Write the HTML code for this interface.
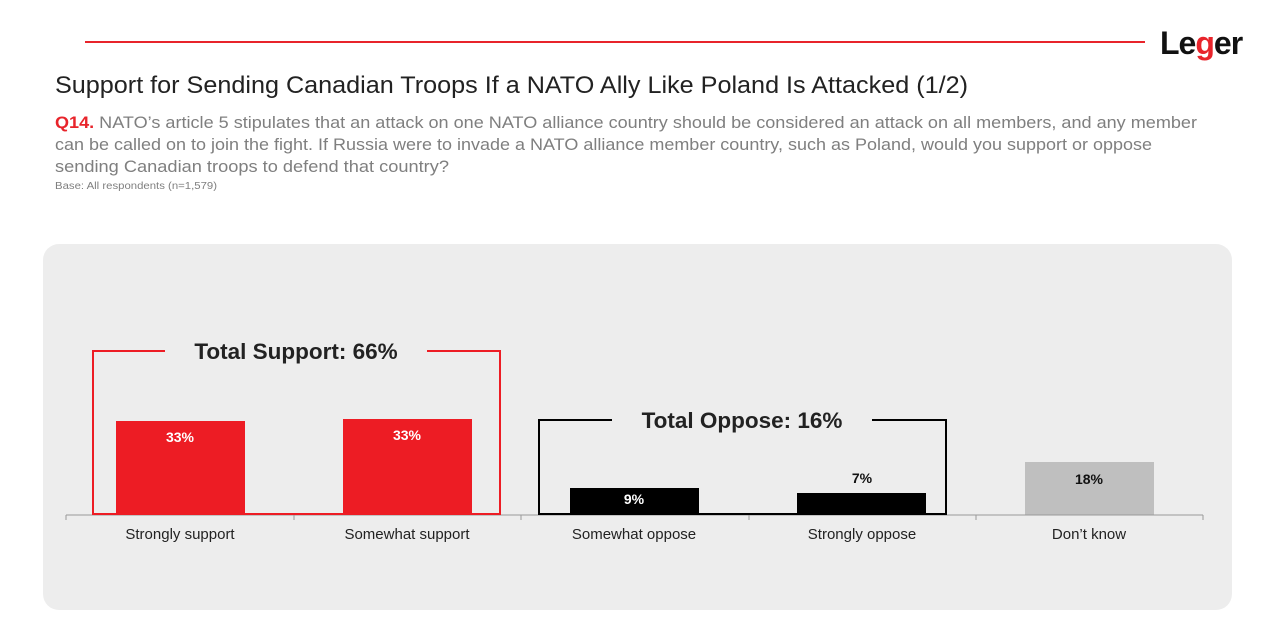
<!DOCTYPE html>
<html><head><meta charset="utf-8"><style>
body{margin:0;width:1263px;height:619px;background:#fff;font-family:"Liberation Sans",sans-serif;overflow:hidden}
</style></head><body>
<svg width="1263" height="619" xmlns="http://www.w3.org/2000/svg" font-family="Liberation Sans, sans-serif">
<line x1="85" y1="42" x2="1145" y2="42" stroke="#e8242b" stroke-width="2"/>
<text x="1160" y="54" font-size="32" font-weight="bold" fill="#111" letter-spacing="-1">Le<tspan fill="#e8242b">g</tspan>er</text>
<text x="55" y="93" font-size="24" fill="#222" textLength="913" lengthAdjust="spacingAndGlyphs">Support for Sending Canadian Troops If a NATO Ally Like Poland Is Attacked (1/2)</text>
<text x="55" y="128" font-size="17" fill="#7f7f7f" textLength="1142" lengthAdjust="spacingAndGlyphs"><tspan fill="#e8242b" font-weight="bold">Q14.</tspan> NATO’s article 5 stipulates that an attack on one NATO alliance country should be considered an attack on all members, and any member</text>
<text x="55" y="150" font-size="17" fill="#7f7f7f" textLength="1097" lengthAdjust="spacingAndGlyphs">can be called on to join the fight. If Russia were to invade a NATO alliance member country, such as Poland, would you support or oppose</text>
<text x="55" y="172" font-size="17" fill="#7f7f7f" textLength="394" lengthAdjust="spacingAndGlyphs">sending Canadian troops to defend that country?</text>
<text x="55" y="189" font-size="10" fill="#7f7f7f" textLength="162" lengthAdjust="spacingAndGlyphs">Base: All respondents (n=1,579)</text>
<rect x="43" y="244" width="1189" height="366" rx="16" fill="#ededed"/>
<rect x="116" y="421" width="129" height="94" fill="#ed1c24"/>
<rect x="343" y="419" width="129" height="96" fill="#ed1c24"/>
<rect x="570" y="488" width="129" height="27" fill="#000"/>
<rect x="797" y="493" width="129" height="22" fill="#000"/>
<rect x="1025" y="462" width="129" height="53" fill="#bfbfbf"/>
<g stroke="#999" stroke-width="1">
<line x1="66" y1="515" x2="1203" y2="515"/>
<line x1="66" y1="515" x2="66" y2="520"/><line x1="294" y1="515" x2="294" y2="520"/><line x1="521" y1="515" x2="521" y2="520"/><line x1="749" y1="515" x2="749" y2="520"/><line x1="976" y1="515" x2="976" y2="520"/><line x1="1203" y1="515" x2="1203" y2="520"/>
</g>
<path d="M165 351H93V514H500V351H427" fill="none" stroke="#ed1c24" stroke-width="2"/>
<path d="M612 420H539V514H946V420H872" fill="none" stroke="#000" stroke-width="2"/>
<text x="296" y="359" font-size="22.5" font-weight="bold" fill="#222" text-anchor="middle">Total Support: 66%</text>
<text x="742" y="428" font-size="22.5" font-weight="bold" fill="#222" text-anchor="middle">Total Oppose: 16%</text>
<g font-size="14" font-weight="bold" text-anchor="middle">
<text x="180" y="442" fill="#fff">33%</text>
<text x="407" y="440" fill="#fff">33%</text>
<text x="634" y="504" fill="#fff">9%</text>
<text x="862" y="483" fill="#111">7%</text>
<text x="1089" y="484" fill="#111">18%</text>
</g>
<g font-size="15" fill="#222" text-anchor="middle">
<text x="180" y="539">Strongly support</text>
<text x="407" y="539">Somewhat support</text>
<text x="634" y="539">Somewhat oppose</text>
<text x="862" y="539">Strongly oppose</text>
<text x="1089" y="539">Don’t know</text>
</g>
</svg>
</body></html>
